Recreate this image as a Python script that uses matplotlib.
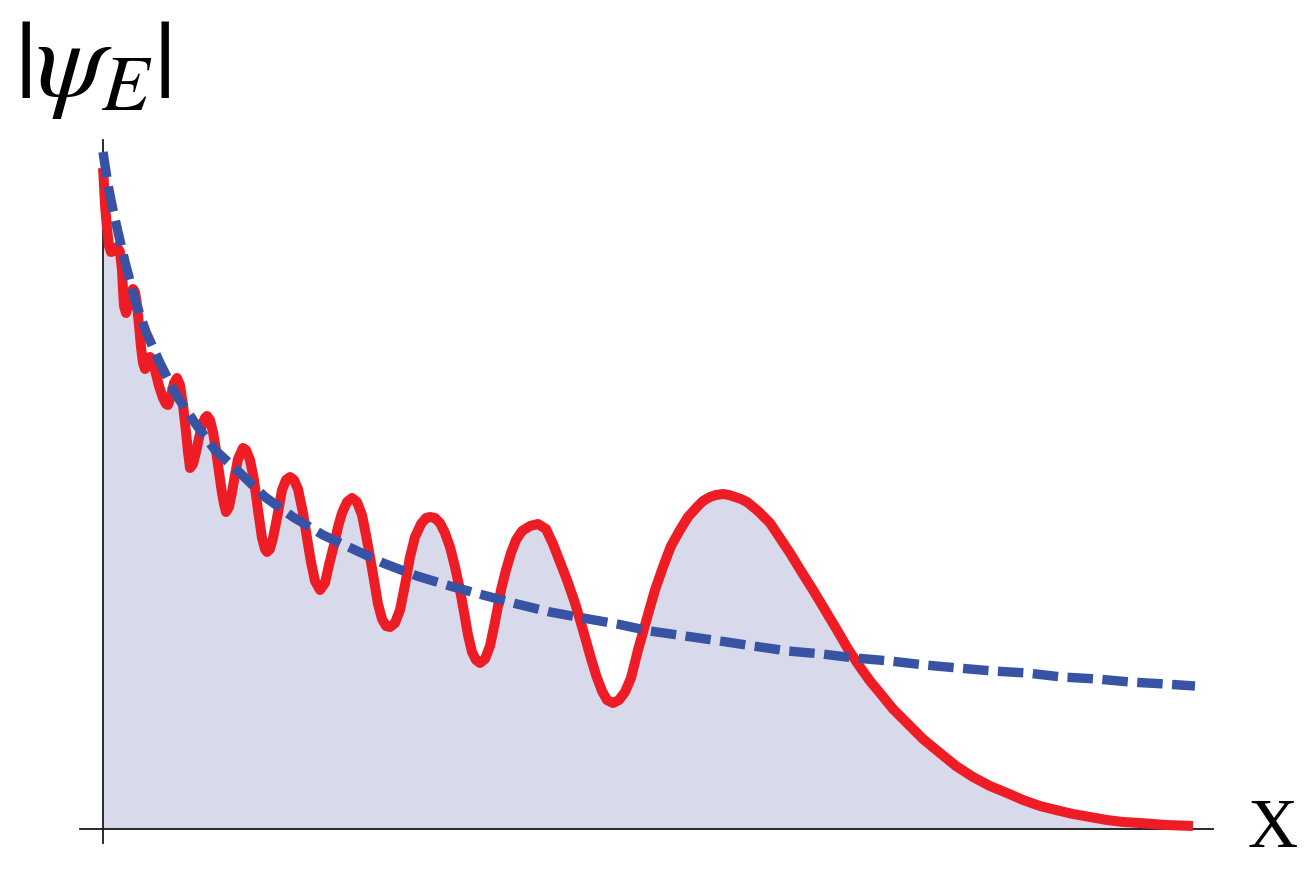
import numpy as np
import matplotlib
matplotlib.use('Agg')
import matplotlib.pyplot as plt

plt.rcParams['mathtext.fontset'] = 'stix'

# red curve |psi_E|, (x, y), in pixels from the origin
red_pts = [
    (0, 661), (1, 644), (2, 624), (4, 601), (6, 583), (8, 577), (11, 578), (14, 582),
    (17, 577), (19, 559), (20, 539), (21, 523), (23, 516), (26, 526), (28, 537),
    (30, 540), (32, 537), (34, 524), (36, 504), (38, 482), (40, 466), (42, 460),
    (45, 467), (47, 472), (49, 470), (52, 459), (56, 443), (60, 431), (63, 425),
    (65, 424), (68, 433), (71, 446), (74, 451), (77, 444), (80, 424), (83, 397),
    (85, 377), (87, 361), (90, 365), (93, 377), (96, 391), (99, 404), (102, 411),
    (104, 413), (107, 409), (110, 397), (113, 379), (116, 357), (119, 336),
    (121, 325), (123, 317), (126, 322), (129, 337), (132, 354), (135, 370),
    (140, 381), (143, 379), (147, 369), (151, 349), (155, 319), (159, 291),
    (162, 280), (164, 277), (167, 280), (170, 291), (174, 311), (179, 339),
    (183, 349), (187, 352), (191, 349), (195, 340), (200, 316), (204, 291),
    (208, 267), (212, 248), (217, 239), (222, 246), (226, 264), (231, 284),
    (235, 302), (239, 316), (244, 327), (249, 331), (254, 327), (259, 314),
    (263, 294), (267, 272), (271, 249), (275, 225), (279, 210), (283, 203),
    (287, 202), (292, 206), (297, 219), (302, 244), (307, 272), (312, 292),
    (318, 305), (323, 311), (327, 312), (332, 311), (337, 306), (342, 296),
    (347, 282), (352, 262), (357, 239), (361, 217), (365, 194), (369, 177),
    (373, 169), (377, 166), (382, 170), (387, 183), (392, 207), (398, 239),
    (403, 259), (408, 276), (413, 289), (419, 298), (427, 303), (435, 305),
    (443, 300), (450, 285), (457, 267), (464, 249), (472, 226), (480, 199),
    (487, 174), (493, 154), (499, 138), (504, 129), (510, 126), (516, 129),
    (522, 137), (528, 151), (535, 179), (544, 211), (552, 239), (560, 262),
    (568, 283), (577, 299), (585, 312), (594, 322), (600, 328), (607, 332),
    (613, 334), (620, 335), (626, 334), (632, 332), (638, 330), (644, 327),
    (655, 318), (667, 306), (677, 291), (687, 276), (698, 258), (710, 239),
    (722, 219), (734, 199), (745, 180), (757, 162), (767, 148), (777, 136),
    (790, 120), (804, 106), (820, 90), (837, 76), (853, 63), (870, 52), (887, 43),
    (904, 36), (920, 29), (937, 23), (953, 19), (970, 15), (987, 12), (1004, 9),
    (1020, 7), (1037, 6), (1063, 4), (1090, 3),
]
x_red = [p[0] for p in red_pts]
y_red = [p[1] for p in red_pts]

# blue dashed envelope
x_blue = [0, 5, 10, 15, 22, 32, 43, 57, 72, 92, 112, 137, 162, 190, 220, 250, 280,
          314, 347, 380, 414, 447, 480, 514, 547, 582, 617, 650, 685, 719, 752, 787,
          822, 855, 890, 924, 959, 994, 1027, 1062, 1092]
y_blue = [677, 644, 619, 597, 567, 529, 497, 466, 436, 406, 379, 356, 332, 312, 294,
          280, 266, 253, 243, 234, 225, 217, 211, 205, 198, 193, 188, 183, 178, 175,
          171, 168, 164, 161, 158, 156, 152, 150, 147, 145, 143]

fig = plt.figure(figsize=(13.14, 8.73), dpi=100)
ax = fig.add_axes([0, 0, 1, 1])
ax.set_xlim(-103, 1211)
ax.set_ylim(-44, 829)
ax.axis('off')

# axes lines
ax.plot([-23, 1110], [0, 0], color='#1a1a1a', lw=1.3, zorder=1)
ax.plot([0, 0], [-14, 689], color='#1a1a1a', lw=1.3, zorder=1)

ax.fill_between(x_red, 0, y_red, color='#d8d9ea', lw=0, zorder=0)
ax.plot(x_red, y_red, color='#ee1c25', lw=7.2, solid_capstyle='butt',
        solid_joinstyle='round', zorder=2)
ax.plot(x_blue, y_blue, color='#3953a4', lw=6.8, dashes=(2.7, 1.0),
        dash_capstyle='butt', zorder=3)

fig.text(14 / 1314, 1 - 14 / 873, r'$|\psi_E|$', fontsize=80, va='top', ha='left')
fig.text(1273 / 1314, 1 - 830 / 873, 'X', family='Liberation Serif', fontsize=50,
         va='center', ha='center')

plt.savefig('out.png', dpi=100)
